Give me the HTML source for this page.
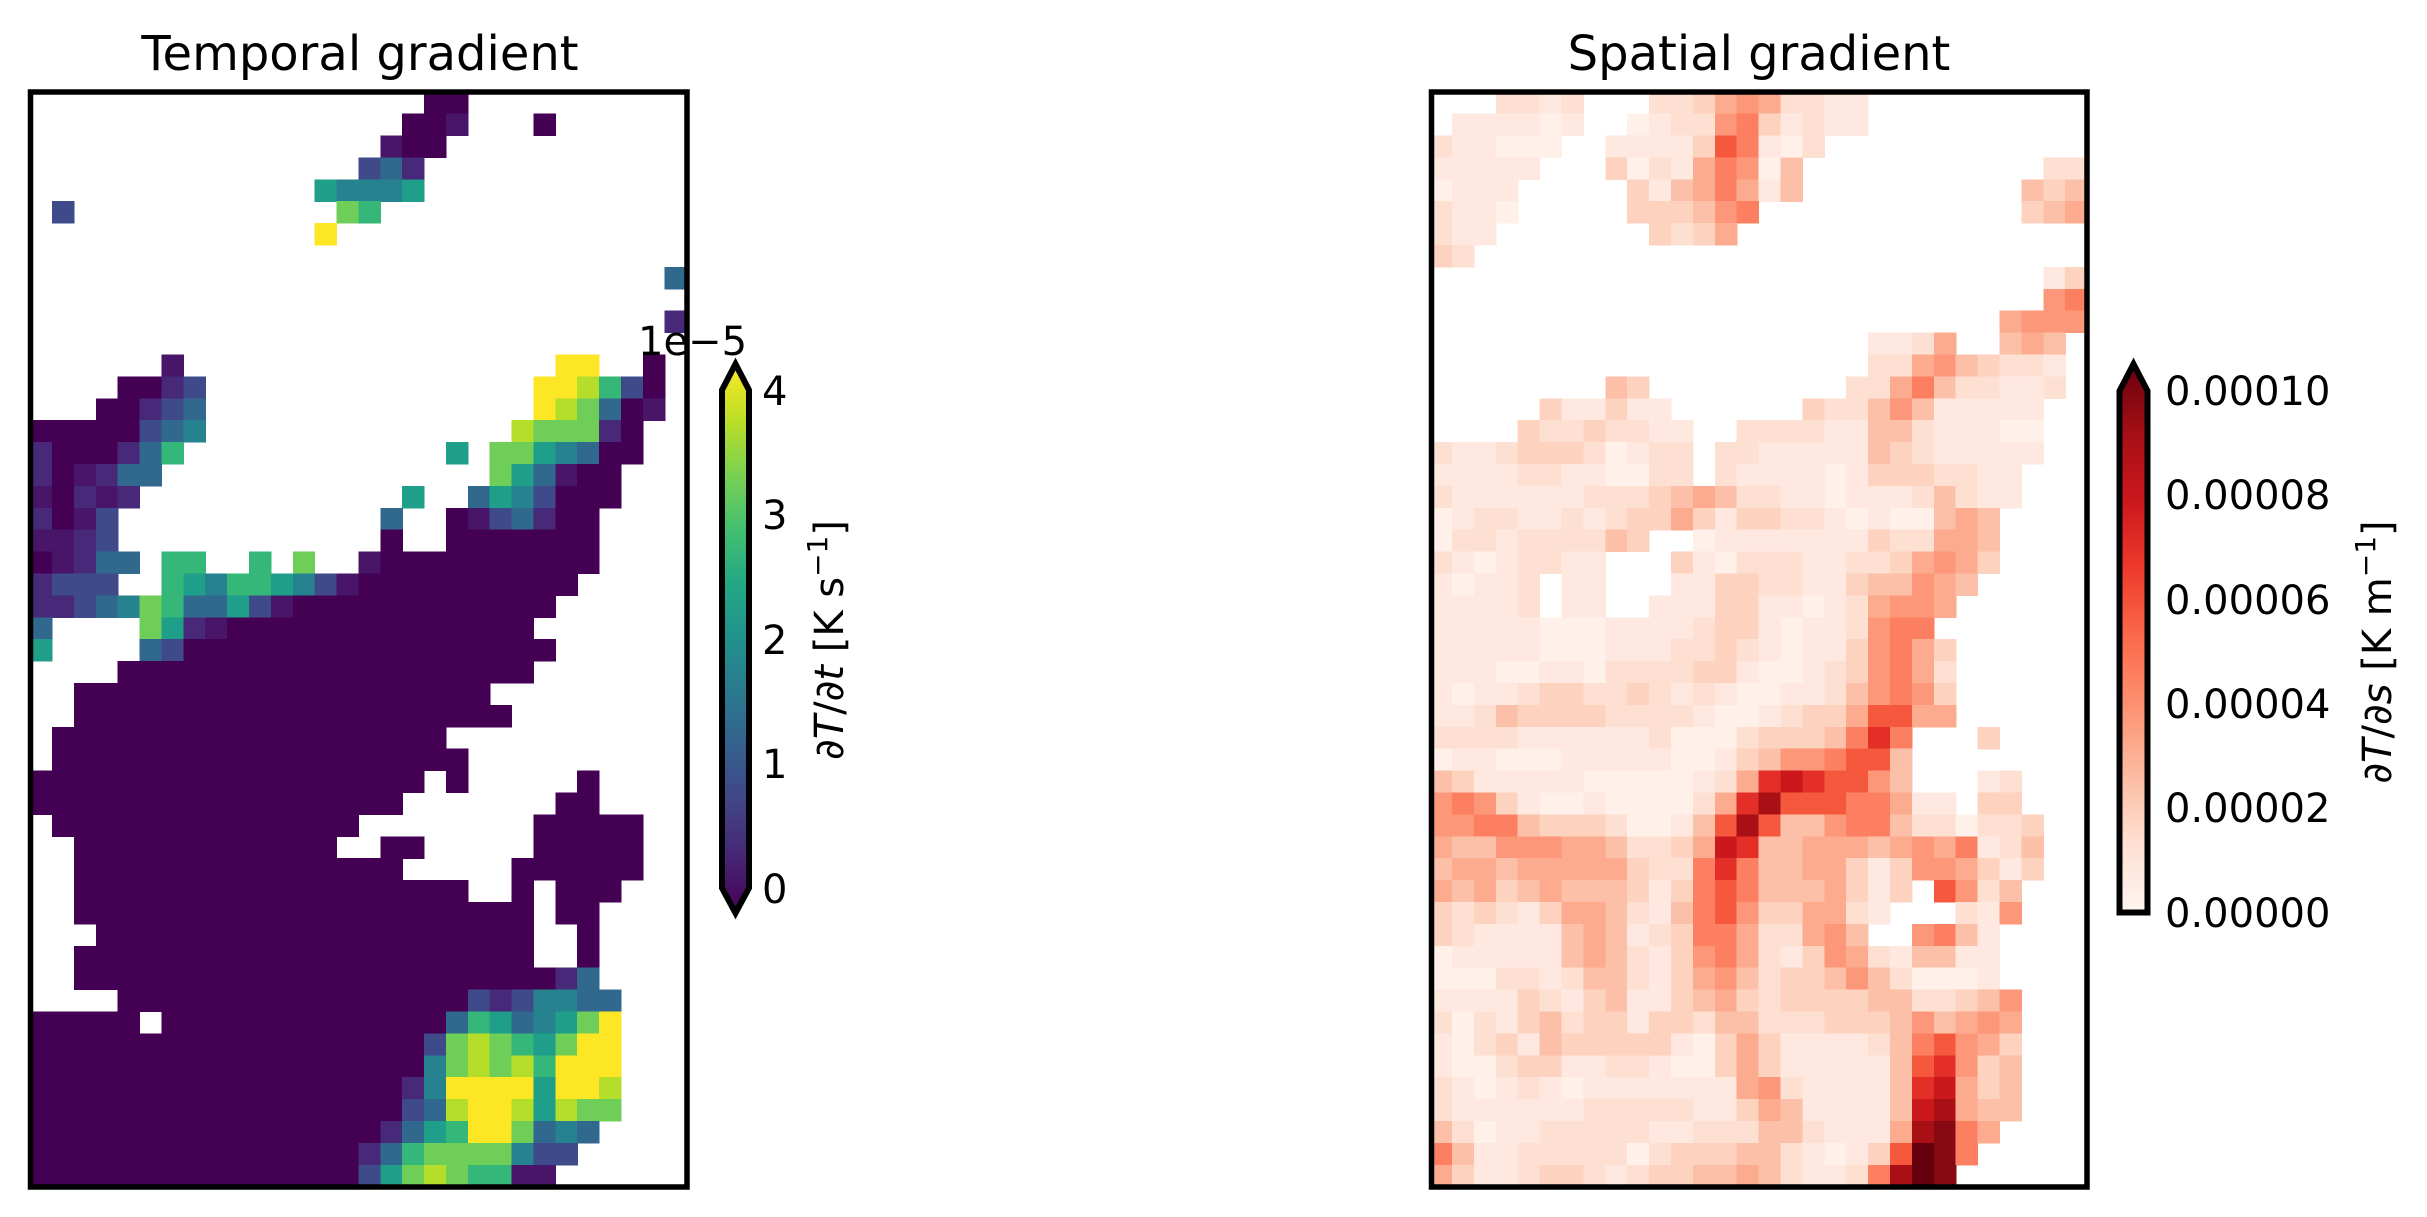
<!DOCTYPE html>
<html><head><meta charset="utf-8"><style>
html,body{margin:0;padding:0;background:#fff;}
svg{display:block;}
text{font-family:"DejaVu Sans","Liberation Sans",sans-serif;fill:#000;}
</style></head><body>
<svg id="s" width="2427" height="1217" viewBox="0 0 2427 1217" xmlns="http://www.w3.org/2000/svg">
<defs>
<linearGradient id="vir" x1="0" y1="1" x2="0" y2="0">
<stop offset="0" stop-color="#440154"/><stop offset="0.1" stop-color="#482475"/><stop offset="0.2" stop-color="#414487"/><stop offset="0.3" stop-color="#355f8d"/><stop offset="0.4" stop-color="#2a788e"/><stop offset="0.5" stop-color="#21918c"/><stop offset="0.6" stop-color="#22a884"/><stop offset="0.7" stop-color="#44bf70"/><stop offset="0.8" stop-color="#7ad151"/><stop offset="0.9" stop-color="#bddf26"/><stop offset="1" stop-color="#fde725"/>
</linearGradient>
<linearGradient id="reds" x1="0" y1="1" x2="0" y2="0">
<stop offset="0" stop-color="#fff5f0"/><stop offset="0.125" stop-color="#fee0d2"/><stop offset="0.25" stop-color="#fcbba1"/><stop offset="0.375" stop-color="#fc9272"/><stop offset="0.5" stop-color="#fb6a4a"/><stop offset="0.625" stop-color="#ef3b2c"/><stop offset="0.75" stop-color="#cb181d"/><stop offset="0.875" stop-color="#a50f15"/><stop offset="1" stop-color="#67000d"/>
</linearGradient>
</defs>
<g id="L" shape-rendering="crispEdges"></g>
<g id="R" shape-rendering="crispEdges"></g>
<rect x="30.5" y="92" width="656.5" height="1095" fill="none" stroke="#000" stroke-width="5.5"/>
<rect x="1431.5" y="92" width="655.5" height="1095" fill="none" stroke="#000" stroke-width="5.5"/>
<text x="360" y="70" font-size="48" text-anchor="middle">Temporal gradient</text>
<text x="1759" y="70" font-size="48" text-anchor="middle">Spatial gradient</text>
<path d="M722,390 L735.5,364 L749,390 L749,888 L735.5,913 L722,888 Z" fill="url(#vir)" stroke="#000" stroke-width="6" stroke-linejoin="miter"/>
<g font-size="40">
<text x="762" y="405">4</text>
<text x="762" y="529">3</text>
<text x="762" y="654">2</text>
<text x="762" y="778">1</text>
<text x="762" y="903">0</text>
<text x="638" y="355">1e−5</text>
</g>
<text transform="translate(843,640) rotate(-90)" font-size="40" text-anchor="middle">∂<tspan font-style="italic">T</tspan>/∂<tspan font-style="italic">t</tspan> [K s<tspan font-size="28" dy="-16">−1</tspan><tspan dy="16">]</tspan></text>
<path d="M2119.5,391 L2133.5,364 L2147.5,391 L2147.5,912.5 L2119.5,912.5 Z" fill="url(#reds)" stroke="#000" stroke-width="6" stroke-linejoin="miter"/>
<g font-size="40">
<text x="2165" y="405">0.00010</text>
<text x="2165" y="509">0.00008</text>
<text x="2165" y="614">0.00006</text>
<text x="2165" y="718">0.00004</text>
<text x="2165" y="822">0.00002</text>
<text x="2165" y="927">0.00000</text>
</g>
<text transform="translate(2391,652) rotate(-90)" font-size="40" text-anchor="middle">∂<tspan font-style="italic">T</tspan>/∂<tspan font-style="italic">s</tspan> [K m<tspan font-size="28" dy="-16">−1</tspan><tspan dy="16">]</tspan></text>
</svg>
<script>
var LG=[
"..................aa..........",
".................aab...a......",
"................baa...........",
"...............dec............",
".............gfffg............",
".d............ih..............",
".............k................",
"..............................",
".............................e",
"..............................",
".............................c",
"..............................",
"......b.................kk..a.",
"....aacd...............kkjhda.",
"...aacde...............kjieab.",
"aaaaadef..............jiiica..",
"caaaceh............g.iigfeaa..",
"cabcee...............igebaa...",
"bacbc............g..egfdaaa...",
"cabd............e..abdecaa....",
"bbcd............a..aaaaaaa....",
"abcee.hh..h.i..baaaaaaaaaa....",
"cddd..hgfhhgfdbaaaaaaaaaa.....",
"ccdefiheegdbaaaaaaaaaaaa......",
"e....igcbaaaaaaaaaaaaaa.......",
"g....edaaaaaaaaaaaaaaaaa......",
"....aaaaaaaaaaaaaaaaaaa.......",
"..aaaaaaaaaaaaaaaaaaa.........",
"..aaaaaaaaaaaaaaaaaaaa........",
".aaaaaaaaaaaaaaaaaa...........",
".aaaaaaaaaaaaaaaaaaa..........",
"aaaaaaaaaaaaaaaaaa.a.....a....",
"aaaaaaaaaaaaaaaaa.......aa....",
".aaaaaaaaaaaaaa........aaaaa..",
"..aaaaaaaaaaaa..aa.....aaaaa..",
"..aaaaaaaaaaaaaaa.....aaaaaa..",
"..aaaaaaaaaaaaaaaaaa..a.aaa...",
"..aaaaaaaaaaaaaaaaaaaaa.aa....",
"...aaaaaaaaaaaaaaaaaaaa..a....",
"..aaaaaaaaaaaaaaaaaaaaa..a....",
"..aaaaaaaaaaaaaaaaaaaaaace....",
"....aaaaaaaaaaaaaaaadcdffee...",
"aaaaa.aaaaaaaaaaaaaehgefgik...",
"aaaaaaaaaaaaaaaaaadijihgikk...",
"aaaaaaaaaaaaaaaaaafijijhkkk...",
"aaaaaaaaaaaaaaaaacfkkkkgkkj...",
"aaaaaaaaaaaaaaaaadejkkjgjii...",
"aaaaaaaaaaaaaaaaceghkkiefe....",
"aaaaaaaaaaaaaaacehiiiifdd.....",
"aaaaaaaaaaaaaaadgijihhbb......"];
var LC={a:"#440154",b:"#481568",c:"#482878",d:"#3e4a89",e:"#31688e",f:"#26828e",g:"#1f9e89",h:"#35b779",i:"#6ece58",j:"#b5de2b",k:"#fde725"};
var RG=[
"...2212...2235652211..........",
".111101..01226731211..........",
"211000..1111387102............",
"11111...302157604...........22",
"0111.....31457514..........434",
"2110.....333467............345",
"211.......3235................",
"32............................",
"............................13",
"............................67",
"..........................5666",
"....................1125..454.",
"....................225643221.",
"........43.........2257422112.",
".....311311......32246411111..",
"....32232211..22221144211100..",
"211233320122.221111143211111..",
"111122110022.21111013332211...",
"211111122234542211011124211...",
"01221121233531332210100454....",
"0221222243..01111111322554....",
"21012211...310222112235653....",
"10112.11...11332211344654.....",
"11112.11..11133110125665......",
"11111000111123310112677.......",
"111110001112232101136753......",
"111001102222331001236752......",
"101123322321210011246763......",
"112433332222100123358855......",
"2222111111200023334797...3....",
"0110001111100134667884........",
"4311111000001259A98864...12...",
"676310010000259B88877511.33...",
"66774333200148B8446774220223..",
"5446665542235A94455545657124..",
"4554555553227974455313665313..",
"5453454443137874445313.8624...",
"323213554214786335521...216...",
"32111145412377522564..6741....",
"01111145421367521365214411....",
"00022124421356423346420001....",
"111132134113453233334422346...",
"202134233133244222333464565...",
"102314333331035311112478653...",
"100233112210035311111489634...",
"21012101111111562111149A534...",
"2111111222221135411114AB544...",
"4201122222112224421115BD75....",
"7411222220233344210138CD7.....",
"531123321233445421127BCD......"];
var RC={"0":"#fff0e9","1":"#fee8df","2":"#fee0d3","3":"#fdd2bf","4":"#fcbfa7","5":"#fcab8f","6":"#fc9879","7":"#fb7f60","8":"#f6583e","9":"#e32f27","A":"#cb181d","B":"#a91016","D":"#870a13","C":"#67000d"};
function draw(id,G,P,x0,y0,w,h){
 var g=document.getElementById(id),s="";
 for(var r=0;r<G.length;r++){for(var c=0;c<G[r].length;c++){var ch=G[r][c];if(ch==="."||!P[ch])continue;
 s+='<rect x="'+(x0+c*w).toFixed(2)+'" y="'+(y0+r*h).toFixed(2)+'" width="'+(w+0.6).toFixed(2)+'" height="'+(h+0.6).toFixed(2)+'" fill="'+P[ch]+'"/>';}}
 g.innerHTML=s;
}
draw("L",LG,LC,30.2,91.7,21.88,21.9);
draw("R",RG,RC,1430.1,91.7,21.9,21.9);
</script>
</body></html>
